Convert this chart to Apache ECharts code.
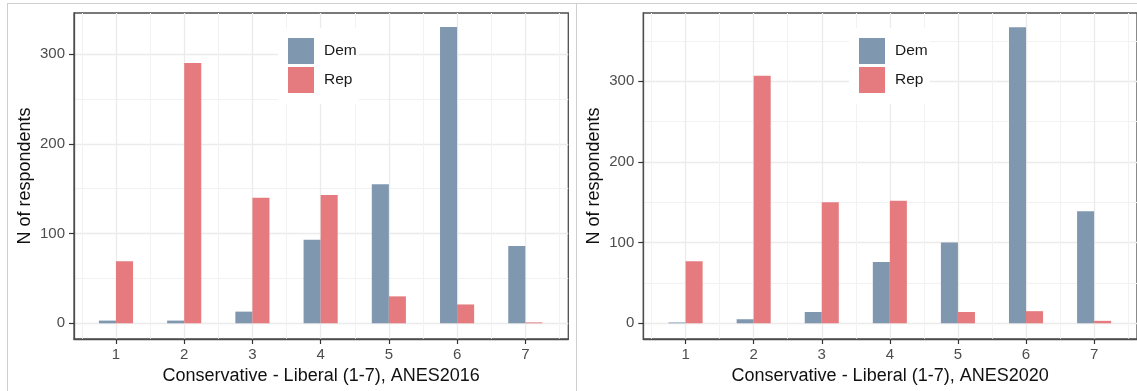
<!DOCTYPE html>
<html><head><meta charset="utf-8">
<script src="https://cdn.jsdelivr.net/npm/echarts@6/dist/echarts.min.js"></script>
<style>html,body{margin:0;padding:0;background:#fff}#c{width:1137px;height:391px}</style>
</head><body><div id="c"></div>
<script>
// ---- data ----
const categories = [1, 2, 3, 4, 5, 6, 7];
const dem2016 = [3, 3, 13, 93, 155, 330, 86];
const rep2016 = [69, 290, 140, 143, 30, 21, 1];
const dem2020 = [1, 5, 14, 76, 100, 367, 139];
const rep2020 = [77, 307, 150, 152, 14, 15, 3];
const xTicks = [1, 2, 3, 4, 5, 6, 7];
const xMinor = [0.5, 1.5, 2.5, 3.5, 4.5, 5.5, 6.5, 7.5];
const yTicks = [0, 100, 200, 300];
const yMinor2016 = [50, 150, 250];
const yMinor2020 = [50, 150, 250, 350];
const xTitles = ['Conservative - Liberal (1-7), ANES2016', 'Conservative - Liberal (1-7), ANES2020'];
const yTitle = 'N of respondents';
const seriesNames = ['Dem', 'Rep'];

// ---- layout / style ----
const FONT = '"Liberation Sans", Arial, sans-serif';
const colors = { Dem: '#7f97af', Rep: '#e57b7e' };
const panels = [
  { left: 74, width: 494.3, ymin: -17.5, ymax: 345.7, xmin: 0.385, xmax: 7.63, minor: yMinor2016, dem: dem2016, rep: rep2016, legendLeft: 278 },
  { left: 643.3, width: 498.2, ymin: -19.5, ymax: 384.7, xmin: 0.379, xmax: 7.63, minor: yMinor2020, dem: dem2020, rep: rep2020, legendLeft: 849 }
];

const pairs = vals => categories.map((c, i) => [c, vals[i]]);

const option = {
  animation: false,
  backgroundColor: '#fff',
  textStyle: { fontFamily: FONT },
  grid: [], xAxis: [], yAxis: [], series: [], legend: [],
  graphic: [
    { type: 'line', shape: { x1: 7, y1: 3.5, x2: 1137, y2: 3.5 }, style: { stroke: '#cfcfcf', lineWidth: 1 }, silent: true },
    { type: 'line', shape: { x1: 7.5, y1: 3.5, x2: 7.5, y2: 391 }, style: { stroke: '#cfcfcf', lineWidth: 1 }, silent: true },
    { type: 'line', shape: { x1: 576.5, y1: 3.5, x2: 576.5, y2: 391 }, style: { stroke: '#cfcfcf', lineWidth: 1 }, silent: true }
  ]
};

panels.forEach((p, i) => {
  option.grid.push({ left: p.left, top: 13, width: p.width, height: 326, show: true, borderColor: '#4d4d4d', borderWidth: 1.3, backgroundColor: 'transparent' });
  // main x axis
  option.xAxis.push({
    type: 'value', gridIndex: i, min: p.xmin, max: p.xmax, position: 'bottom',
    axisLine: { show: true, onZero: false, lineStyle: { color: '#4d4d4d', width: 1.3 } },
    axisTick: { show: true, customValues: xTicks, length: 5, lineStyle: { color: '#333', width: 1.2 } },
    axisLabel: { customValues: xTicks, color: '#4d4d4d', fontSize: 15, margin: 8, fontFamily: FONT },
    splitLine: { show: true, lineStyle: { color: '#ebebeb', width: 1.3 } },
    name: xTitles[i], nameLocation: 'middle', nameGap: 27,
    nameTextStyle: { fontSize: 18, color: '#111', fontFamily: FONT }
  });
  // minor x gridlines
  option.xAxis.push({
    type: 'value', gridIndex: i, min: p.xmin, max: p.xmax, position: 'bottom',
    axisLine: { show: false }, axisLabel: { show: false },
    axisTick: { show: false, customValues: xMinor },
    splitLine: { show: true, lineStyle: { color: '#f2f2f2', width: 1 } }
  });
  // main y axis
  option.yAxis.push({
    type: 'value', gridIndex: i, min: p.ymin, max: p.ymax, position: 'left',
    axisLine: { show: true, onZero: false, lineStyle: { color: '#4d4d4d', width: 1.3 } },
    axisTick: { show: true, customValues: yTicks, length: 5, lineStyle: { color: '#333', width: 1.2 } },
    axisLabel: { customValues: yTicks, color: '#4d4d4d', fontSize: 15, margin: 9, fontFamily: FONT },
    splitLine: { show: true, lineStyle: { color: '#ebebeb', width: 1.3 } },
    name: yTitle, nameLocation: 'middle', nameGap: 40, nameRotate: 90,
    nameTextStyle: { fontSize: 18, color: '#111', fontFamily: FONT }
  });
  // minor y gridlines
  option.yAxis.push({
    type: 'value', gridIndex: i, min: p.ymin, max: p.ymax, position: 'left',
    axisLine: { show: false }, axisLabel: { show: false },
    axisTick: { show: false, customValues: p.minor },
    splitLine: { show: true, lineStyle: { color: '#f2f2f2', width: 1 } }
  });
  [['Dem', p.dem], ['Rep', p.rep]].forEach(([nm, vals]) => {
    option.series.push({
      type: 'bar', name: nm, xAxisIndex: i * 2, yAxisIndex: i * 2,
      data: pairs(vals), barWidth: '25%', barGap: '0%',
      itemStyle: { color: colors[nm] }
    });
  });
  option.legend.push({
    data: seriesNames, orient: 'vertical', left: p.legendLeft, top: 28,
    icon: 'rect', itemWidth: 26, itemHeight: 26, itemGap: 3,
    padding: [10, 2, 11, 10], backgroundColor: '#fff',
    textStyle: { fontSize: 15.5, color: '#1a1a1a', fontFamily: FONT, padding: [2, 0, 0, 5] },
    selectedMode: false
  });
});

const chart = echarts.init(document.getElementById('c'), null, { renderer: 'canvas' });
chart.setOption(option);
</script>
</body></html>
